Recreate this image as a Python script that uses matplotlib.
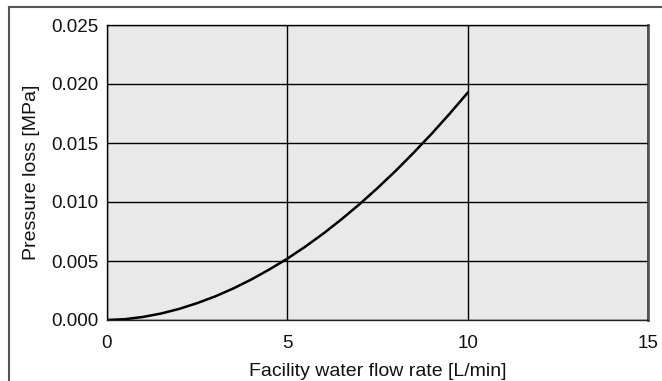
import matplotlib.pyplot as plt
from matplotlib.lines import Line2D

plt.rcParams['font.family'] = ['Liberation Sans', 'DejaVu Sans']

# Flow rate [L/min] and pressure loss [MPa]
flow = [0, 0.5, 1, 1.5, 2, 2.5, 3, 3.5, 4, 4.5, 5,
        5.5, 6, 6.5, 7, 7.5, 8, 8.5, 9, 9.5, 10]
loss = [0.0, 0.00007, 0.00026, 0.00055, 0.00094, 0.00143, 0.00200,
        0.00267, 0.00343, 0.00428, 0.00520, 0.00622, 0.00733, 0.00853,
        0.00981, 0.01118, 0.01263, 0.01417, 0.01578, 0.01748, 0.01926]

x_ticks = [0, 5, 10, 15]
y_ticks = [0.000, 0.005, 0.010, 0.015, 0.020, 0.025]

fig = plt.figure(figsize=(6.62, 3.81), dpi=100)
ax = fig.add_axes([107 / 662, 1 - 320 / 381, 541 / 662, 295 / 381])
ax.set_facecolor('#e8e9e8')

ax.plot(flow, loss, color='black', lw=1.8, zorder=3)

ax.set_xlim(0, 15)
ax.set_ylim(0, 0.025)
ax.set_xticks(x_ticks)
ax.set_yticks(y_ticks)
ax.set_yticklabels([f'{v:.3f}' for v in y_ticks])
ax.grid(True, color='black', lw=1.0)
ax.set_axisbelow(False)
ax.tick_params(length=0, labelsize=13.5, colors='#111111')
ax.tick_params(axis='x', pad=11)
ax.tick_params(axis='y', pad=6)

for side in ['left', 'bottom', 'top']:
    ax.spines[side].set_color('#222222')
    ax.spines[side].set_linewidth(1.0)
ax.spines['right'].set_color('#555555')
ax.spines['right'].set_linewidth(2.0)

ax.set_xlabel('Facility water flow rate [L/min]', fontsize=14, labelpad=8,
              color='#111111')
ax.set_ylabel('Pressure loss [MPa]', fontsize=14, labelpad=8, color='#111111')

# outer frame: left and top edges only
fig.add_artist(Line2D([8.5 / 662, 8.5 / 662], [0, 1 - 7 / 381],
                      transform=fig.transFigure, color='#555555', lw=1.5))
fig.add_artist(Line2D([8.5 / 662, 1], [1 - 7 / 381, 1 - 7 / 381],
                      transform=fig.transFigure, color='#555555', lw=1.5))

fig.savefig('out.png', dpi=100)
